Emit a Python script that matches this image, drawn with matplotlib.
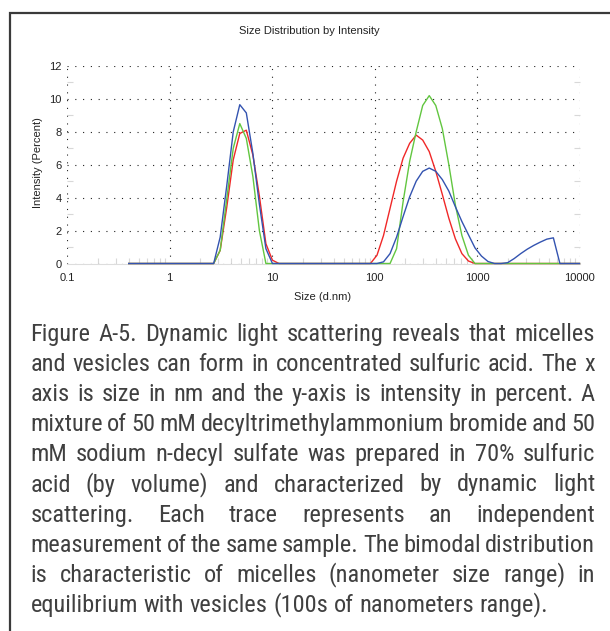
import matplotlib
matplotlib.use("Agg")
import matplotlib.pyplot as plt
from matplotlib import font_manager as fm
from matplotlib.font_manager import FontProperties
from matplotlib.patches import Rectangle

# ---------------- data ----------------
sizes = [0.4, 0.4632, 0.5365, 0.6213, 0.7195, 0.8332, 0.9649, 1.117, 1.294, 1.499,
         1.736, 2.010, 2.328, 2.696, 3.122, 3.615, 4.187, 4.849, 5.615, 6.503,
         7.531, 8.721, 10.10, 11.70, 13.54, 15.69, 18.17, 21.04, 24.36, 28.21,
         32.67, 37.84, 43.82, 50.75, 58.77, 68.06, 78.82, 91.28, 105.7, 122.4,
         141.8, 164.2, 190.1, 220.2, 255.0, 295.3, 342.0, 396.1, 458.7, 531.2,
         615.1, 712.4, 825.0, 955.4, 1106, 1281, 1484, 1718, 1990, 2305,
         2669, 3091, 3580, 4145, 4801, 5560, 6439, 7456, 8635, 10000]

red = [0, 0, 0, 0, 0, 0, 0, 0, 0, 0,
       0, 0, 0, 0, 0.8, 3.4, 6.3, 7.9, 8.1, 6.6,
       4.1, 1.2, 0.2, 0, 0, 0, 0, 0, 0, 0,
       0, 0, 0, 0, 0, 0, 0, 0, 0.5, 1.7,
       3.35, 5.0, 6.4, 7.3, 7.8, 7.5, 6.8, 5.6, 4.2, 2.75,
       1.5, 0.6, 0.15, 0, 0, 0, 0, 0, 0, 0,
       0, 0, 0, 0, 0, 0, 0, 0, 0, 0]

green = [0, 0, 0, 0, 0, 0, 0, 0, 0, 0,
         0, 0, 0, 0, 0.8, 3.9, 7.0, 8.5, 7.6, 5.3,
         2.0, 0, 0, 0, 0, 0, 0, 0, 0, 0,
         0, 0, 0, 0, 0, 0, 0, 0, 0, 0,
         0, 0.9, 3.75, 6.2, 8.0, 9.6, 10.2, 9.6, 8.2, 6.0,
         3.55, 1.7, 0.5, 0, 0, 0, 0, 0, 0, 0,
         0, 0, 0, 0, 0, 0, 0, 0, 0, 0]

blue = [0, 0, 0, 0, 0, 0, 0, 0, 0, 0,
        0, 0, 0, 0, 1.6, 4.7, 8.0, 9.65, 9.15, 6.7,
        3.6, 0.9, 0, 0, 0, 0, 0, 0, 0, 0,
        0, 0, 0, 0, 0, 0, 0, 0, 0, 0.1,
        0.6, 1.6, 2.85, 4.05, 5.0, 5.6, 5.8, 5.6, 5.1, 4.4,
        3.45, 2.55, 1.75, 0.95, 0.45, 0.12, 0, 0, 0.05, 0.3,
        0.6, 0.87, 1.1, 1.3, 1.48, 1.56, 0, 0, 0, 0]

x_ticks = [0.1, 1, 10, 100, 1000, 10000]
x_tick_labels = ["0.1", "1", "10", "100", "1000", "10000"]
y_ticks = [0, 2, 4, 6, 8, 10, 12]
y_tick_labels = ["0", "2", "4", "6", "8", "10", "12"]

title = "Size Distribution by Intensity"
xlabel = "Size (d.nm)"
ylabel = "Intensity (Percent)"

caption_lines = [
    "Figure A-5. Dynamic light scattering reveals that micelles",
    "and vesicles can form in concentrated sulfuric acid. The x",
    "axis is size in nm and the y-axis is intensity in percent. A",
    "mixture of 50 mM decyltrimethylammonium bromide and 50",
    "mM sodium n-decyl sulfate was prepared in 70% sulfuric",
    "acid (by volume) and characterized by dynamic light",
    "scattering. Each trace represents an independent",
    "measurement of the same sample. The bimodal distribution",
    "is characteristic of micelles (nanometer size range) in",
    "equilibrium with vesicles (100s of nanometers range).",
]

# ---------------- fonts ----------------
avail = {f.name for f in fm.fontManager.ttflist}
plot_font = "Liberation Sans" if "Liberation Sans" in avail else "DejaVu Sans"
plt.rcParams["font.family"] = [plot_font, "DejaVu Sans"]


def pick_narrow_font():
    prio = ["liberation sans narrow", "arial narrow", "roboto condensed",
            "open sans condensed", "noto sans condensed", "nimbus sans narrow",
            "dejavu sans condensed", "condensed", "narrow"]
    best, best_rank = None, 99
    for f in fm.fontManager.ttflist:
        desc = (f.name + " " + str(f.stretch) + " " + f.fname.split("/")[-1]).lower()
        if f.style != "normal":
            continue
        if "bold" in desc or "light" in desc or "thin" in desc or "medium" in desc \
                or "black" in desc or "semi" in desc or "extra" in desc or "mono" in desc \
                or "italic" in desc or "oblique" in desc:
            continue
        flat = desc.replace("-", " ").replace("_", " ")
        for r, key in enumerate(prio):
            if key in flat or key.replace(" ", "") in flat.replace(" ", ""):
                if r < best_rank:
                    best, best_rank = f, r
                break
    return best


nf = pick_narrow_font()
if nf is not None:
    cap_fp_base = dict(fname=nf.fname)
else:
    cap_fp_base = dict(family=plot_font)

W, H = 610, 631
fig = plt.figure(figsize=(W / 100, H / 100), dpi=100)
fig.patch.set_facecolor("white")

# outer frame (clipped at right/bottom like the reference)
fig.add_artist(Rectangle((10 / W, -0.1), 1.2, 1 - 13 / H + 0.1,
                         transform=fig.transFigure, fill=False,
                         edgecolor="#3a3a3a", linewidth=1.6))

ax = fig.add_axes([67 / W, 1 - 263.5 / H, (579.5 - 67) / W, (263.5 - 66) / H])
ax.set_xscale("log")
ax.set_xlim(0.1, 10000)
ax.set_ylim(0, 12)

ax.plot(sizes, red, color="#f02828", lw=1.0, clip_on=False, zorder=3)
ax.plot(sizes, green, color="#62c640", lw=1.0, clip_on=False, zorder=4)
ax.plot(sizes, blue, color="#3353b0", lw=1.0, clip_on=False, zorder=5)

ax.set_xticks(x_ticks)
ax.set_xticklabels(x_tick_labels)
ax.set_yticks(y_ticks)
ax.set_yticklabels(y_tick_labels)
ax.set_yticks([1, 3, 5, 7, 9, 11], minor=True)

ax.grid(True, which="major", linestyle=(0, (1, 6)), color="#222222", linewidth=0.8)
for s in ["top", "right", "left"]:
    ax.spines[s].set_visible(False)
ax.spines["bottom"].set_color("#dddddd")
ax.spines["bottom"].set_linewidth(0.8)

ax.tick_params(which="major", length=0, labelsize=8, labelcolor="#222222", pad=4)
ax.tick_params(axis="x", which="major", pad=7)
ax.tick_params(which="minor", direction="in", length=4, color="#d8d8d8",
               width=0.8, left=True, right=True, bottom=True, top=False,
               labelleft=False, labelbottom=False)

fig.text(309 / W, 1 - 30.7 / H, title, ha="center", va="center",
         fontsize=8, color="#222222")
fig.text(323 / W, 1 - 296.5 / H, xlabel, ha="center", va="center",
         fontsize=8, color="#222222")
fig.text(38 / W, 1 - 163 / H, ylabel, ha="center", va="center",
         rotation=90, fontsize=8, color="#222222")

# ---------------- justified caption ----------------
fig.canvas.draw()
renderer = fig.canvas.get_renderer()
x_left, x_right = 30.5, 595.0
baseline0 = 341.0
spacing = 30.1


def measure(s, size):
    fp = FontProperties(size=size, **cap_fp_base)
    t = fig.text(0, 0, s, fontproperties=fp)
    w = t.get_window_extent(renderer).width
    t.remove()
    return w


cap_size = 17.6
# shrink if the widest line (with minimum word gaps) does not fit
space_w = measure("a a", cap_size) - measure("aa", cap_size)
need = 0
for line in caption_lines:
    ws = line.split(" ")
    need = max(need, sum(measure(w, cap_size) for w in ws) + 0.55 * space_w * (len(ws) - 1))
if need > (x_right - x_left):
    cap_size *= (x_right - x_left) / need

cap_fp = FontProperties(size=cap_size, **cap_fp_base)
space_w = measure("a a", cap_size) - measure("aa", cap_size)
for i, line in enumerate(caption_lines):
    yb = 1 - (baseline0 + i * spacing) / H
    words = line.split(" ")
    texts = [fig.text(0, yb, w, fontproperties=cap_fp, color="#404040",
                      va="baseline", ha="left") for w in words]
    widths = [t.get_window_extent(renderer).width for t in texts]
    if i == len(caption_lines) - 1 or len(words) == 1:
        gap = space_w
    else:
        gap = (x_right - x_left - sum(widths)) / (len(words) - 1)
    x = x_left
    for t, w in zip(texts, widths):
        t.set_x(x / W)
        x += w + gap

fig.savefig("out.png", dpi=100, facecolor="white")
